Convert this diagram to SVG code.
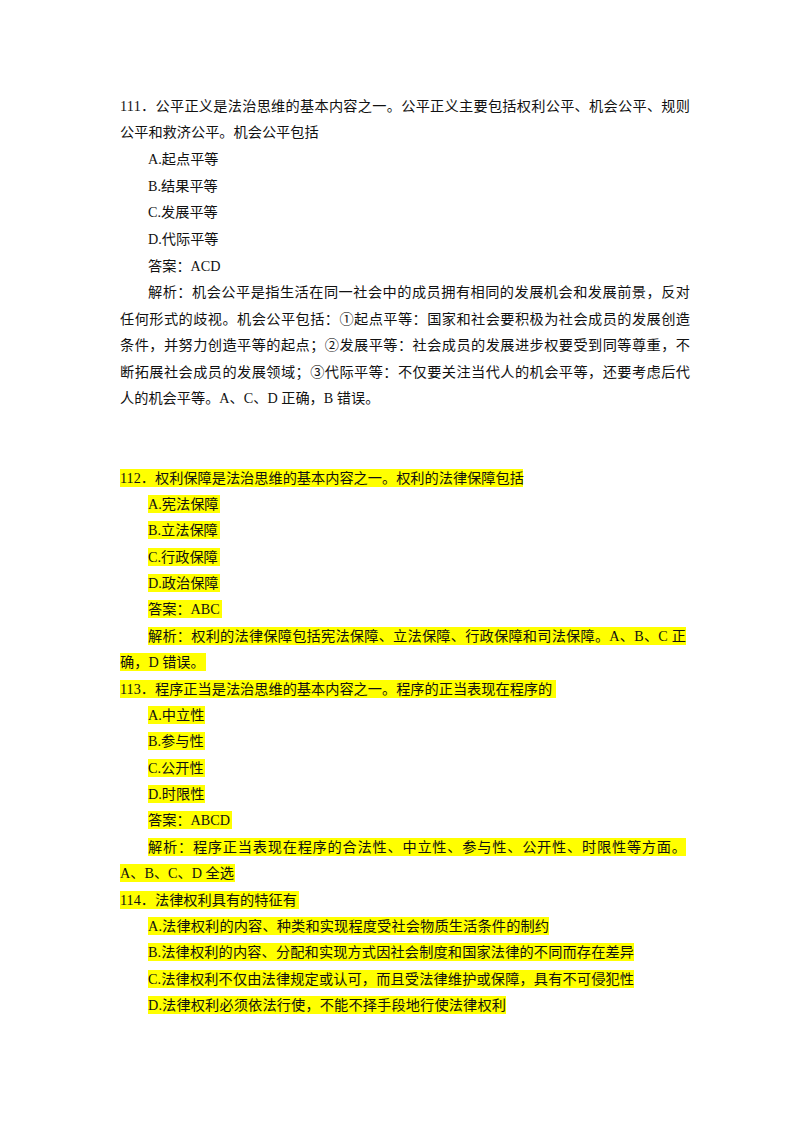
<svg xmlns="http://www.w3.org/2000/svg" width="800" height="1132" viewBox="0 0 800 1132">
<style>
text{font-family:"Liberation Serif","Noto Sans CJK SC",serif;font-size:14.2px;fill:#111}
.h{fill:#ffff00}
</style>
<rect width="800" height="1132" fill="#fff"/>
<g id="q111">
<text x="120" y="111" textLength="570" lengthAdjust="spacing">111．公平正义是法治思维的基本内容之一。公平正义主要包括权利公平、机会公平、规则</text>
<text x="120" y="137">公平和救济公平。机会公平包括</text>
<text x="148" y="164">A.起点平等</text>
<text x="148" y="191">B.结果平等</text>
<text x="148" y="217">C.发展平等</text>
<text x="148" y="244">D.代际平等</text>
<text x="148" y="271">答案：ACD</text>
<text x="148" y="297" textLength="542" lengthAdjust="spacing">解析：机会公平是指生活在同一社会中的成员拥有相同的发展机会和发展前景，反对</text>
<text x="120" y="324" textLength="570" lengthAdjust="spacing">任何形式的歧视。机会公平包括：①起点平等：国家和社会要积极为社会成员的发展创造</text>
<text x="120" y="350" textLength="570" lengthAdjust="spacing">条件，并努力创造平等的起点；②发展平等：社会成员的发展进步权要受到同等尊重，不</text>
<text x="120" y="377" textLength="570" lengthAdjust="spacing">断拓展社会成员的发展领域；③代际平等：不仅要关注当代人的机会平等，还要考虑后代</text>
<text x="120" y="403">人的机会平等。A、C、D 正确，B 错误。</text>
</g>
<g id="q112">
<rect class="h" x="120" y="469" width="403" height="18"/>
<rect class="h" x="148" y="495" width="72" height="18"/>
<rect class="h" x="148" y="521" width="72" height="18"/>
<rect class="h" x="148" y="548" width="72" height="18"/>
<rect class="h" x="148" y="574" width="72" height="18"/>
<rect class="h" x="148" y="600" width="74" height="18"/>
<rect class="h" x="148" y="627" width="538" height="18"/>
<rect class="h" x="120" y="653" width="86" height="18"/>
<text x="120" y="483">112．权利保障是法治思维的基本内容之一。权利的法律保障包括</text>
<text x="148" y="509">A.宪法保障</text>
<text x="148" y="535">B.立法保障</text>
<text x="148" y="562">C.行政保障</text>
<text x="148" y="588">D.政治保障</text>
<text x="148" y="614">答案：ABC</text>
<text x="148" y="641" textLength="538" lengthAdjust="spacing">解析：权利的法律保障包括宪法保障、立法保障、行政保障和司法保障。A、B、C 正</text>
<text x="120" y="667">确，D 错误。</text>
</g>
<g id="q113">
<rect class="h" x="120" y="680" width="436" height="18"/>
<rect class="h" x="148" y="706" width="57" height="18"/>
<rect class="h" x="148" y="732" width="57" height="18"/>
<rect class="h" x="148" y="759" width="57" height="18"/>
<rect class="h" x="148" y="785" width="57" height="18"/>
<rect class="h" x="148" y="811" width="84" height="18"/>
<rect class="h" x="148" y="838" width="538" height="18"/>
<rect class="h" x="120" y="864" width="115" height="18"/>
<text x="120" y="694">113．程序正当是法治思维的基本内容之一。程序的正当表现在程序的</text>
<text x="148" y="720">A.中立性</text>
<text x="148" y="746">B.参与性</text>
<text x="148" y="773">C.公开性</text>
<text x="148" y="799">D.时限性</text>
<text x="148" y="825">答案：ABCD</text>
<text x="148" y="852" textLength="538" lengthAdjust="spacing">解析：程序正当表现在程序的合法性、中立性、参与性、公开性、时限性等方面。</text>
<text x="120" y="878">A、B、C、D 全选</text>
</g>
<g id="q114">
<rect class="h" x="120" y="891" width="179" height="18"/>
<rect class="h" x="148" y="917" width="401" height="18"/>
<rect class="h" x="148" y="943" width="486" height="18"/>
<rect class="h" x="148" y="970" width="486" height="18"/>
<rect class="h" x="148" y="996" width="358" height="18"/>
<text x="120" y="905">114．法律权利具有的特征有</text>
<text x="148" y="931" textLength="401" lengthAdjust="spacing">A.法律权利的内容、种类和实现程度受社会物质生活条件的制约</text>
<text x="148" y="957" textLength="486" lengthAdjust="spacing">B.法律权利的内容、分配和实现方式因社会制度和国家法律的不同而存在差异</text>
<text x="148" y="984" textLength="486" lengthAdjust="spacing">C.法律权利不仅由法律规定或认可，而且受法律维护或保障，具有不可侵犯性</text>
<text x="148" y="1010" textLength="358" lengthAdjust="spacing">D.法律权利必须依法行使，不能不择手段地行使法律权利</text>
</g>
</svg>
